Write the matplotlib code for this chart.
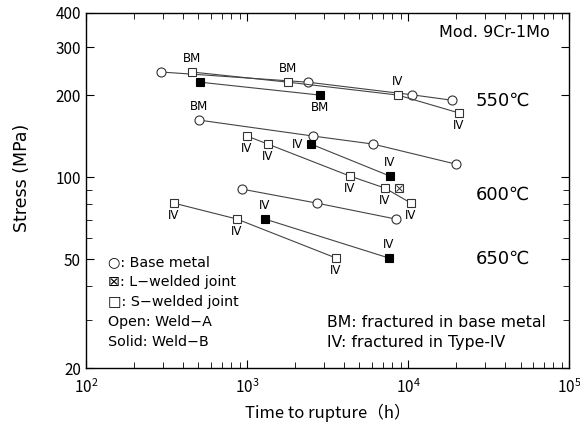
import matplotlib
matplotlib.use('Agg')
import matplotlib.pyplot as plt
from matplotlib.ticker import FixedLocator, NullFormatter, LogLocator, LogFormatterMathtext

plt.rcParams['font.family'] = ['Noto Sans CJK JP', 'DejaVu Sans']
plt.rcParams['mathtext.fontset'] = 'dejavusans'

# 550C
t550_bm_a = [292, 2390, 10600, 18750]
s550_bm_a = [243, 223, 200.5, 191.5]
t550_sw_a = [455, 1800, 8670, 20750]
s550_sw_a = [243, 223, 200, 172]
t550_sw_b = [511, 2840]
s550_sw_b = [223, 200]

# 600C
t600_bm_a = [503, 2570, 6070, 19870]
s600_bm_a = [162, 141.6, 132.3, 111.7]
t600_sw_a = [1000, 1350, 4365, 7190, 10450]
s600_sw_a = [141.6, 132.3, 101, 91.3, 80.4]
t600_sw_b = [2500, 7730]
s600_sw_b = [132.3, 101]
t600_lw_b = [8790]
s600_lw_b = [91.3]

# 650C
t650_bm_a = [931, 2720, 8410]
s650_bm_a = [90.5, 80.4, 70.3]
t650_sw_a = [352, 867, 3575]
s650_sw_a = [80.4, 70.3, 50.6]
t650_sw_b = [1294, 7620]
s650_sw_b = [70.3, 50.6]

# fracture labels: (time, stress, text, side)
frac_labels = [
    (455, 243, 'BM', 'up'), (1800, 223, 'BM', 'up'), (8670, 200, 'IV', 'up'),
    (20750, 172, 'IV', 'down'), (2840, 200, 'BM', 'down'),
    (503, 162, 'BM', 'up'),
    (1000, 141.6, 'IV', 'down'), (1350, 132.3, 'IV', 'down'), (4365, 101, 'IV', 'down'),
    (7190, 91.3, 'IV', 'down'), (10450, 80.4, 'IV', 'down'),
    (2500, 132.3, 'IV', 'left'), (7730, 101, 'IV', 'up'),
    (352, 80.4, 'IV', 'down'), (867, 70.3, 'IV', 'down'), (3575, 50.6, 'IV', 'down'),
    (1294, 70.3, 'IV', 'up'), (7620, 50.6, 'IV', 'up'),
]

fig = plt.figure(figsize=(5.8, 4.3), dpi=100)
ax = fig.add_axes([0.148, 0.144, 0.833, 0.826])
ax.set_xscale('log')
ax.set_yscale('log')

line_kw = dict(color='#444444', lw=0.8)
circ_open = dict(marker='o', ms=6.5, mfc='white', mec='#333333', mew=0.8)
sq_open = dict(marker='s', ms=5.5, mfc='white', mec='#333333', mew=0.8)
sq_solid = dict(marker='s', ms=5.5, mfc='black', mec='black', mew=0.8)

for t, s in [(t550_bm_a, s550_bm_a), (t600_bm_a, s600_bm_a), (t650_bm_a, s650_bm_a)]:
    ax.plot(t, s, **line_kw, **circ_open, zorder=3)
for t, s in [(t550_sw_a, s550_sw_a), (t600_sw_a, s600_sw_a), (t650_sw_a, s650_sw_a)]:
    ax.plot(t, s, **line_kw, **sq_open, zorder=3)
for t, s in [(t550_sw_b, s550_sw_b), (t600_sw_b, s600_sw_b), (t650_sw_b, s650_sw_b)]:
    ax.plot(t, s, **line_kw, **sq_solid, zorder=3)
ax.plot(t600_lw_b, s600_lw_b, ls='none', marker='s', ms=5.5, mfc='white', mec='#333333', mew=0.8)
ax.plot(t600_lw_b, s600_lw_b, ls='none', marker='x', ms=4, mec='#333333', mew=0.7)

offsets = {'up': (0, 10), 'down': (0, -9), 'left': (-10, 0)}
for t, s, txt, side in frac_labels:
    ax.annotate(txt, (t, s), xytext=offsets[side], textcoords='offset points',
                ha='center', va='center', fontsize=8.5, family='DejaVu Sans')

ax.set_xlim(1e2, 1e5)
ax.set_ylim(20, 400)
ax.xaxis.set_major_locator(LogLocator(base=10))
ax.xaxis.set_major_formatter(LogFormatterMathtext())
ax.xaxis.set_minor_locator(LogLocator(base=10, subs=range(2, 10)))
ax.xaxis.set_minor_formatter(NullFormatter())
ax.yaxis.set_major_locator(FixedLocator([20, 50, 100, 200, 300, 400]))
ax.yaxis.set_major_formatter(plt.FuncFormatter(lambda v, p: f'{v:g}'))
ax.yaxis.set_minor_locator(FixedLocator([30, 40, 60, 70, 80, 90]))
ax.yaxis.set_minor_formatter(NullFormatter())
ax.tick_params(which='both', direction='in', top=True, right=True, labelsize=11)
ax.tick_params(which='major', length=6)
ax.tick_params(which='minor', length=4)
ax.tick_params(axis='x', which='major', pad=7)
for sp in ax.spines.values():
    sp.set_linewidth(1.0)

ax.set_xlabel('Time to rupture（h）', fontsize=12, labelpad=5)
ax.set_ylabel('Stress (MPa)', fontsize=12.5, family='DejaVu Sans')
ax.yaxis.set_label_coords(-0.114, 0.535)

ax.text(0.96, 0.944, 'Mod. 9Cr-1Mo', transform=ax.transAxes, ha='right', va='center',
        fontsize=11.5, family='DejaVu Sans')
for txt, yv in [('550℃', 190), ('600℃', 86), ('650℃', 50.5)]:
    ax.text(0.863, yv, txt, transform=ax.get_yaxis_transform(), ha='center', va='center',
            fontsize=13, family='DejaVu Sans')

legend_lines = ['○: Base metal', '⊠: L−welded joint', '□: S−welded joint',
                'Open: Weld−A', 'Solid: Weld−B']
for i, txt in enumerate(legend_lines):
    ax.text(0.045, 0.297 - i * 0.056, txt, transform=ax.transAxes, ha='left', va='center',
            fontsize=10.3, family=['DejaVu Sans'])

ax.text(0.50, 0.128, 'BM: fractured in base metal', transform=ax.transAxes,
        ha='left', va='center', fontsize=11.3, family='DejaVu Sans')
ax.text(0.50, 0.072, 'IV: fractured in Type-IV', transform=ax.transAxes,
        ha='left', va='center', fontsize=11.3, family='DejaVu Sans')

fig.savefig('out.png', dpi=100)
